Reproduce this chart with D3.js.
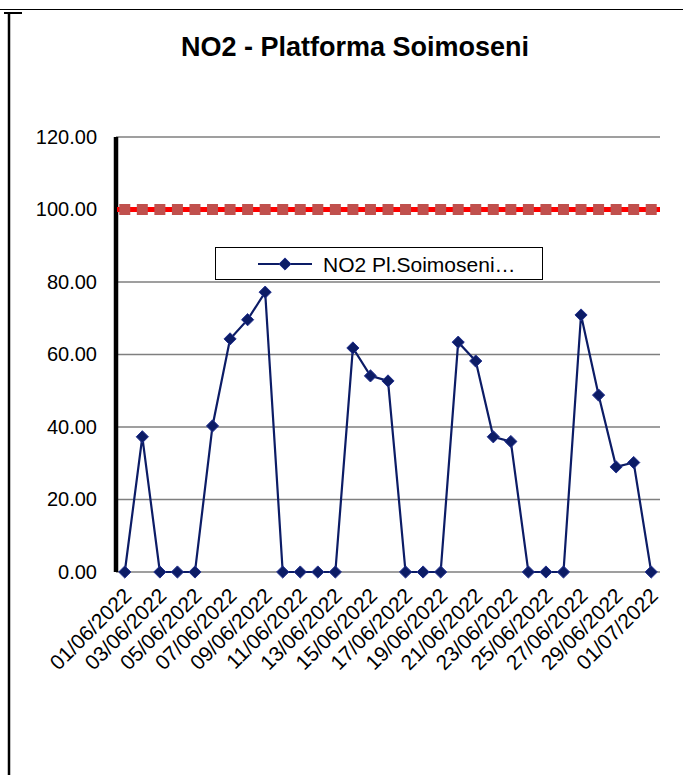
<!DOCTYPE html>
<html>
<head>
<meta charset="utf-8">
<script src="https://cdn.jsdelivr.net/npm/d3@7"></script>
<style>
  body { margin: 0; background: #fff; }
  svg text { font-family: "Liberation Sans", Arial, sans-serif; }
</style>
</head>
<body>
<svg id="chart" width="683" height="775"></svg>
<script>
// dates 01/06/2022 .. 01/07/2022
const dates = [
    "01/06/2022", "02/06/2022", "03/06/2022", "04/06/2022", "05/06/2022",
    "06/06/2022", "07/06/2022", "08/06/2022", "09/06/2022", "10/06/2022",
    "11/06/2022", "12/06/2022", "13/06/2022", "14/06/2022", "15/06/2022",
    "16/06/2022", "17/06/2022", "18/06/2022", "19/06/2022", "20/06/2022",
    "21/06/2022", "22/06/2022", "23/06/2022", "24/06/2022", "25/06/2022",
    "26/06/2022", "27/06/2022", "28/06/2022", "29/06/2022", "30/06/2022",
    "01/07/2022"
];
const no2Values = [
    0, 37.3, 0, 0, 0, 40.3, 64.3, 69.6, 77.2, 0,
    0, 0, 0, 61.8, 54.1, 52.7, 0, 0, 0, 63.4,
    58.2, 37.3, 36.0, 0, 0, 0, 70.9, 48.8, 29.0, 30.2,
    0
];
const limitValue = 100;
const yTicks = [0, 20, 40, 60, 80, 100, 120];
const seriesName = "NO2 Pl.Soimoseni\u2026";
const title = "NO2 - Platforma Soimoseni";

const svg = d3.select("#chart");
const plot = { left: 116, right: 660, top: 137, bottom: 572 };

// frame round the chart
svg.append("line").attr("x1", 0).attr("x2", 683).attr("y1", 9.5).attr("y2", 9.5)
    .attr("stroke", "#000").attr("stroke-width", 1);
svg.append("line").attr("x1", 4).attr("x2", 22).attr("y1", 13).attr("y2", 13)
    .attr("stroke", "#000").attr("stroke-width", 2);
svg.append("line").attr("x1", 9).attr("x2", 9).attr("y1", 12).attr("y2", 775)
    .attr("stroke", "#000").attr("stroke-width", 2.5);

const x = d3.scaleBand()
    .domain(dates)
    .range([plot.left, plot.right]);
const y = d3.scaleLinear()
    .domain([0, 120])
    .range([plot.bottom, plot.top]);
const cx = d => x(d) + x.bandwidth() / 2;

svg.append("text")
    .attr("x", 355).attr("y", 56)
    .attr("text-anchor", "middle")
    .attr("font-size", 27).attr("font-weight", "bold")
    .text(title);

// gridlines
svg.append("g")
    .selectAll("line")
    .data(yTicks)
    .enter().append("line")
    .attr("x1", plot.left).attr("x2", plot.right)
    .attr("y1", d => y(d)).attr("y2", d => y(d))
    .attr("stroke", "#7f7f7f").attr("stroke-width", 1.5);

// y axis
const yAxis = svg.append("g")
    .attr("transform", "translate(" + plot.left + ",0)")
    .call(d3.axisLeft(y).tickValues(yTicks).tickSize(0).tickPadding(19)
        .tickFormat(d3.format(".2f")));
yAxis.select(".domain").remove();
yAxis.selectAll("text").attr("font-size", 20).attr("fill", "#000")
    .style("font-family", "Liberation Sans, Arial, sans-serif");
svg.append("line")
    .attr("x1", plot.left).attr("x2", plot.left)
    .attr("y1", y(120)).attr("y2", y(0))
    .attr("stroke", "#000").attr("stroke-width", 4.5);

// x labels, every second date
svg.append("g")
    .selectAll("text")
    .data(dates.filter((d, i) => i % 2 === 0))
    .enter().append("text")
    .attr("transform", d => "translate(" + (cx(d) + 8) + "," + 597 + ") rotate(-45)")
    .attr("text-anchor", "end")
    .attr("font-size", 21)
    .text(d => d);

// limit line with square markers
svg.append("path")
    .attr("d", "M" + (plot.left + 1) + "," + y(limitValue) + "H" + plot.right)
    .attr("stroke", "#ff0000").attr("stroke-width", 5);
svg.append("g")
    .selectAll("rect")
    .data(dates)
    .enter().append("rect")
    .attr("x", d => cx(d) - 5.5).attr("y", y(limitValue) - 5.5)
    .attr("width", 11).attr("height", 11)
    .attr("fill", "#c0504d");

// NO2 series
const navy = "#0c1c66";
svg.append("path")
    .datum(no2Values)
    .attr("fill", "none")
    .attr("stroke", navy).attr("stroke-width", 2.2)
    .attr("d", d3.line().x((d, i) => cx(dates[i])).y(d => y(d)));
const diamond = d3.symbol().type(d3.symbolDiamond2).size(95);
svg.append("g")
    .selectAll("path")
    .data(no2Values)
    .enter().append("path")
    .attr("d", diamond)
    .attr("transform", (d, i) => "translate(" + cx(dates[i]) + "," + y(d) + ")")
    .attr("fill", navy).attr("stroke", "#23318f").attr("stroke-width", 1);

// legend
const lg = svg.append("g");
lg.append("rect")
    .attr("x", 215.5).attr("y", 247.5).attr("width", 327).attr("height", 32)
    .attr("fill", "#fff").attr("stroke", "#000").attr("stroke-width", 1);
lg.append("line").attr("x1", 258).attr("x2", 312).attr("y1", 264).attr("y2", 264)
    .attr("stroke", navy).attr("stroke-width", 2.2);
lg.append("path").attr("d", diamond)
    .attr("transform", "translate(285,264)")
    .attr("fill", navy).attr("stroke", "#23318f").attr("stroke-width", 1);
lg.append("text")
    .attr("x", 323).attr("y", 271.5)
    .attr("font-size", 21)
    .text(seriesName);
</script>
</body>
</html>
